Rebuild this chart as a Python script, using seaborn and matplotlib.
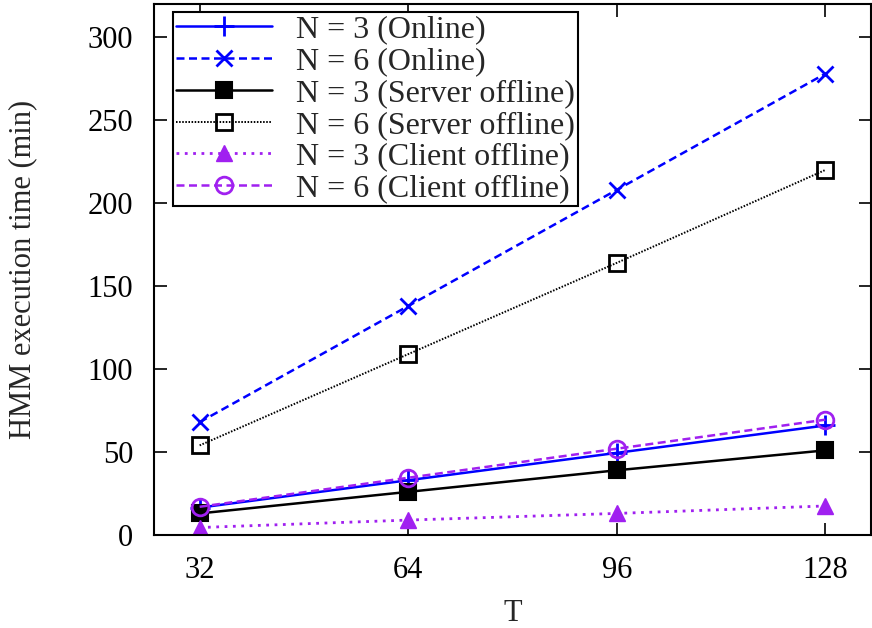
import matplotlib
matplotlib.use("Agg")
import matplotlib.pyplot as plt
import seaborn as sns
import pandas as pd

T = [32, 64, 96, 128]
online_n3 = [16.5, 33, 49.5, 66]
online_n6 = [68, 138, 208, 278]
server_n3 = [13, 26, 39, 51]
server_n6 = [54, 109, 164, 220]
client_n3 = [4.5, 9, 13, 17.5]
client_n6 = [17, 34.5, 52, 69.5]

labels = ["N = 3 (Online)", "N = 6 (Online)", "N = 3 (Server offline)",
          "N = 6 (Server offline)", "N = 3 (Client offline)", "N = 6 (Client offline)"]
series = [online_n3, online_n6, server_n3, server_n6, client_n3, client_n6]

sns.set_theme(style="ticks")
plt.rcParams['font.family'] = ['Liberation Serif', 'DejaVu Serif']
plt.rcParams['font.size'] = 22

blue = "#0000ff"
purple = "#a020f0"
styles = [
    dict(color=blue, ls="-", marker="+", ms=14, mew=2, mfc=blue, mec=blue, lw=1.8),
    dict(color=blue, ls=(0, (3.2, 1.8)), marker="x", ms=12, mew=2, mfc=blue, mec=blue, lw=1.8),
    dict(color="black", ls="-", marker="s", ms=12, mew=1.5, mfc="black", mec="black", lw=1.8),
    dict(color="black", ls=(0, (0.8, 0.8)), marker="s", ms=12, mew=2, mfc="none", mec="black", lw=1.4),
    dict(color=purple, ls=(0, (1, 2)), marker="^", ms=11, mew=1, mfc=purple, mec=purple, lw=2.0),
    dict(color=purple, ls=(0, (3.2, 1.8)), marker="o", ms=12, mew=2, mfc="none", mec=purple, lw=1.8),
]

fig = plt.figure(figsize=(8.72, 6.28), dpi=100)
ax = fig.add_axes([154/872, 1-535/628, (871-154)/872, (535-4)/628])

for lab, vals, st in zip(labels, series, styles):
    df = pd.DataFrame({"T": T, "v": vals})
    sns.lineplot(data=df, x="T", y="v", ax=ax, label=lab, color=st["color"],
                 linestyle=st["ls"], marker=st["marker"], markersize=st["ms"],
                 markeredgewidth=st["mew"], markerfacecolor=st["mfc"],
                 markeredgecolor=st["mec"], linewidth=st["lw"])

ax.set_xlim(25, 135)
ax.set_ylim(0, 320)
ax.set_xticks(T)
ax.set_xticklabels([str(t) for t in T])
ax.set_yticks([0, 50, 100, 150, 200, 250, 300])
ax.set_xlabel("T", fontsize=22, labelpad=10)
ax.set_ylabel("HMM execution time (min)", fontsize=22, labelpad=36)
ax.tick_params(direction="in", length=9, width=1.2, top=True, right=True,
               labelsize=22, pad=15, colors="black")
for s in ax.spines.values():
    s.set_visible(True)
    s.set_linewidth(1.5)
    s.set_color("black")

leg = ax.legend(loc="upper left", bbox_to_anchor=(0.0265, 0.985), borderaxespad=0,
                fontsize=23, frameon=True, fancybox=False, framealpha=1,
                edgecolor="black", handlelength=3.0, handletextpad=0.75,
                labelspacing=0.075, borderpad=0.1)
leg.get_frame().set_linewidth(1.5)

fig.savefig("out.png", dpi=100)
